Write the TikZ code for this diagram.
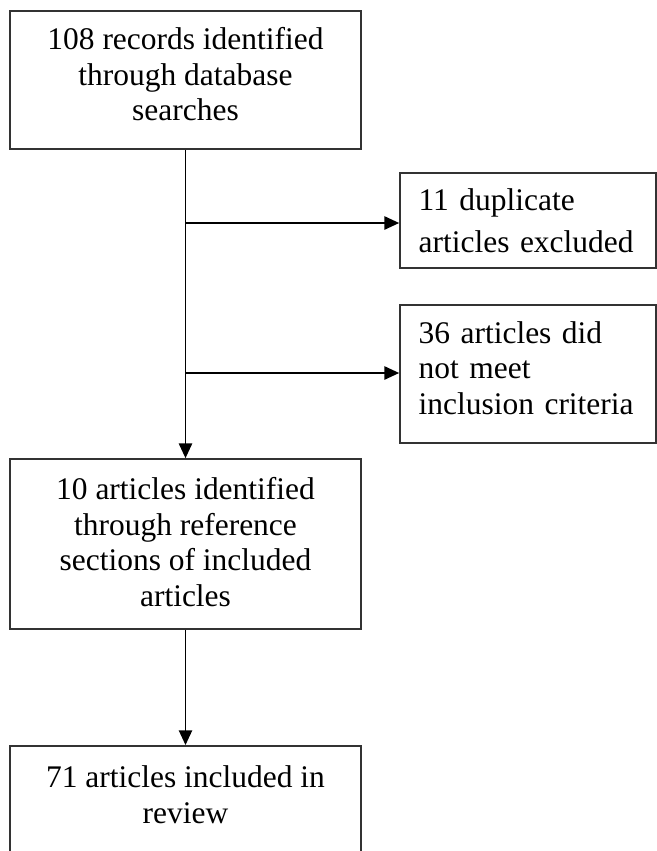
\documentclass[tikz,border=0pt]{standalone}
\usepackage{fontspec}
\setmainfont{Liberation Serif}
\usepackage{xcolor}
\usepackage{tikz}
\usetikzlibrary{arrows.meta, positioning}
\definecolor{frame}{HTML}{333333}

\begin{document}
\begin{tikzpicture}[x=0.75pt, y=-0.75pt, >={Triangle[length=11pt, width=10pt]},
  font=\fontsize{23.6pt}{26.6pt}\selectfont,
  box/.style={draw=frame, line width=1.3pt, minimum width=263pt, align=center, inner sep=0pt},
  sidebox/.style={draw=frame, line width=1.3pt, minimum width=192pt, text width=164pt,
    inner xsep=14pt, inner ysep=0pt, align=left},
  link/.style={line width=1pt, black}]
  \useasboundingbox (0,0) rectangle (657,851);
  % Hlavní sloupec
  \node[box, minimum height=103.5pt, text depth=8.5pt] (records) at (185.5,80)
    {108 records identified\\ through database\\ searches};
  \node[box, minimum height=127.5pt, text depth=3pt] (refs) at (185.5,544)
    {10 articles identified\\ through reference\\ sections of included\\ articles};
  \node[box, anchor=north, text height=58pt, text depth=100pt] (review) at (185.5,745)
    {71 articles included in\\ review};
  % Vyřazené
  \node[sidebox, minimum height=71.25pt] (dups) at (528,220.5)
    {11 duplicate\\[5pt] articles excluded};
  \node[sidebox, minimum height=103.5pt, text depth=62.6pt] (criteria) at (528,374)
    {36 articles did\\ not meet\\ inclusion criteria};
  % Šipky
  \coordinate (split1) at (185.5,223);
  \coordinate (split2) at (185.5,373);
  \draw[link, ->] (records) -- (refs);
  \draw[link, ->] (split1) -- (split1 -| dups.west);
  \draw[link, ->] (split2) -- (split2 -| criteria.west);
  \draw[link, ->] (refs) -- (review);
\end{tikzpicture}
\end{document}
